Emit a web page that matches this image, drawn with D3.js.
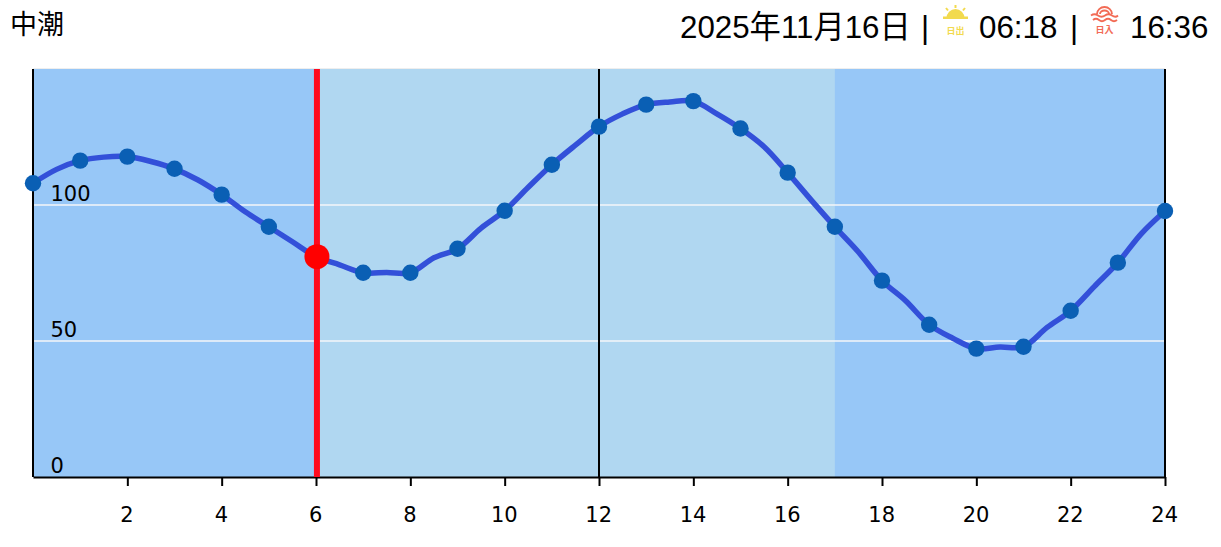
<!DOCTYPE html>
<html><head><meta charset="utf-8">
<script src="https://cdn.jsdelivr.net/npm/d3@7/dist/d3.min.js"></script>
<style>html,body{margin:0;padding:0;background:#fff}svg{display:block}</style>
</head><body><svg id="c" width="1221" height="547"></svg>
<script>
const hours=[0,0.5,1,1.5,2,2.5,3,3.5,4,4.5,5,5.5,6,6.5,7,7.5,8,8.5,9,9.5,10,10.5,11,11.5,12,12.5,13,13.5,14,14.5,15,15.5,16,16.5,17,17.5,18,18.5,19,19.5,20,20.5,21,21.5,22,22.5,23,23.5,24];
const tide=[108,113.1,116.3,117.6,117.8,116,113.3,109.2,103.8,97.5,92,86.5,81,78,75.1,75.2,75.1,80.6,83.9,91.5,97.9,106.5,114.8,122,128.8,133.5,136.9,137.9,138.2,133.5,128.1,121.4,111.9,101.8,92,82.7,72.2,64.8,56,51,47.2,47.8,47.9,55,61.1,70,78.8,89.5,97.8];
const xTickValues=[2,4,6,8,10,12,14,16,18,20,22,24];
const yTickValues=[0,50,100];
const dayBand=[6,17];
const currentHour=6.02;
const currentValue=81;
const blackLines=[0,12,24];
const titleLeft="中潮";
const dateText="2025年11月16日";
const riseText="06:18";
const setText="16:36";

const svg=d3.select("#c");
const x=d3.scaleLinear().domain([0,24]).range([33,1165]);
const y=d3.scaleLinear().domain([0,150]).range([477,69]);
const sans="'Liberation Sans','Noto Sans CJK JP',sans-serif";
const axisFont="'DejaVu Sans',sans-serif";

svg.append("rect").attr("x",x(0)).attr("y",y(150)).attr("width",x(24)-x(0)).attr("height",y(0)-y(150)).attr("fill","#97c7f7");
svg.append("rect").attr("x",x(dayBand[0])).attr("y",y(150)).attr("width",x(dayBand[1])-x(dayBand[0])).attr("height",y(0)-y(150)).attr("fill","#b0d7f1");
svg.append("line").attr("x1",x(0)).attr("x2",x(24)).attr("y1",y(150)-.5).attr("y2",y(150)-.5).attr("stroke","#eeeeee").attr("stroke-width",1);

svg.selectAll("line.g").data(yTickValues.filter(d=>d>0)).join("line").attr("class","g")
  .attr("x1",x(0)).attr("x2",x(24)).attr("y1",d=>y(d)).attr("y2",d=>y(d)).attr("stroke","#f4f6f8").attr("stroke-width",1.5);

svg.selectAll("text.yl").data(yTickValues).join("text").attr("class","yl")
  .attr("x",x(0)+17.5).attr("y",d=>y(d)-4).attr("font-family",axisFont).attr("font-size",21).attr("fill","#000").text(d=>d);

svg.selectAll("line.v").data(blackLines).join("line").attr("class","v")
  .attr("x1",d=>x(d)).attr("x2",d=>x(d)).attr("y1",y(150)).attr("y2",y(0)).attr("stroke","#000").attr("stroke-width",2);

const ax=svg.append("g").attr("transform",`translate(0,${y(0)})`)
  .call(d3.axisBottom(x).tickValues(xTickValues).tickSize(9).tickPadding(21).tickSizeOuter(0));
ax.select(".domain").attr("stroke","#000").attr("stroke-width",2);
ax.selectAll(".tick line").attr("stroke","#000").attr("stroke-width",2);
ax.selectAll("text").attr("font-family",axisFont).attr("font-size",21).attr("fill","#000").attr("dx",-0.8);

svg.append("line").attr("x1",x(currentHour)).attr("x2",x(currentHour)).attr("y1",y(150)).attr("y2",y(0)).attr("stroke","#ff0a1e").attr("stroke-width",6);

const line=d3.line().x((d,i)=>x(hours[i])).y(d=>y(d)).curve(d3.curveCatmullRom.alpha(0.5));
svg.append("path").attr("d",line(tide)).attr("fill","none").attr("stroke","#3350d9").attr("stroke-width",5.5).attr("stroke-linejoin","round");

const hourly=hours.map((h,i)=>({h,v:tide[i]})).filter(d=>Number.isInteger(d.h));
svg.selectAll("circle.p").data(hourly).join("circle").attr("class","p")
  .attr("cx",d=>x(d.h)).attr("cy",d=>y(d.v)).attr("r",8.2).attr("fill","#0a5fb4");
svg.append("circle").attr("cx",x(currentHour)).attr("cy",y(currentValue)).attr("r",12.5).attr("fill","#ff0000");

const fs=31.3, base=38;
svg.append("text").attr("x",10).attr("y",34).attr("font-family",sans).attr("font-size",27).attr("fill","#000").text(titleLeft);
svg.append("text").attr("x",680).attr("y",base).attr("font-family",sans).attr("font-size",fs).attr("fill","#000").text(dateText);
svg.append("text").attr("x",921).attr("y",base).attr("font-family",sans).attr("font-size",fs).attr("fill","#000").text("|");
svg.append("text").attr("x",979).attr("y",base).attr("font-family",sans).attr("font-size",fs).attr("fill","#000").text(riseText);
svg.append("text").attr("x",1070).attr("y",base).attr("font-family",sans).attr("font-size",fs).attr("fill","#000").text("|");
svg.append("text").attr("x",1130).attr("y",base).attr("font-family",sans).attr("font-size",fs).attr("fill","#000").text(setText);

const yellow="#f2da4e";
const sun=svg.append("g").attr("fill",yellow).attr("stroke","none");
sun.append("path").attr("d",d3.arc()({innerRadius:0,outerRadius:9,startAngle:-Math.PI/2,endAngle:Math.PI/2})).attr("transform","translate(955.5,18)");
sun.append("rect").attr("x",943).attr("y",16.5).attr("width",25).attr("height",2.5);
[[955.5,5,955.5,8],[946,8,948,10.5],[965,8,963,10.5]].forEach(l=>
  svg.append("line").attr("x1",l[0]).attr("y1",l[1]).attr("x2",l[2]).attr("y2",l[3]).attr("stroke",yellow).attr("stroke-width",2));
svg.append("text").attr("x",955.5).attr("y",33.5).attr("text-anchor","middle").attr("font-family","'Noto Sans CJK JP',sans-serif").attr("font-size",9).attr("font-weight",700).attr("fill",yellow).text("日出");

const red="#f26b55";
svg.append("path").attr("d","M1097,14 A7.5,7 0 0 1 1112,14").attr("fill","none").attr("stroke",red).attr("stroke-width",1.8);
svg.append("path").attr("d","M1100,14 A4.5,3.5 0 0 1 1109,14").attr("fill","none").attr("stroke",red).attr("stroke-width",1.8);
svg.append("path").attr("d","M1091,15.5 q3.5,-2.5 7,0 t7,0 t7,0 t6,0").attr("fill","none").attr("stroke",red).attr("stroke-width",1.8);
svg.append("path").attr("d","M1093,20 q3,-2.5 6,0 t6,0 t6,0 t6,0").attr("fill","none").attr("stroke",red).attr("stroke-width",1.8);
svg.append("text").attr("x",1104.5).attr("y",33).attr("text-anchor","middle").attr("font-family","'Noto Sans CJK JP',sans-serif").attr("font-size",9).attr("font-weight",700).attr("fill",red).text("日入");
</script></body></html>
